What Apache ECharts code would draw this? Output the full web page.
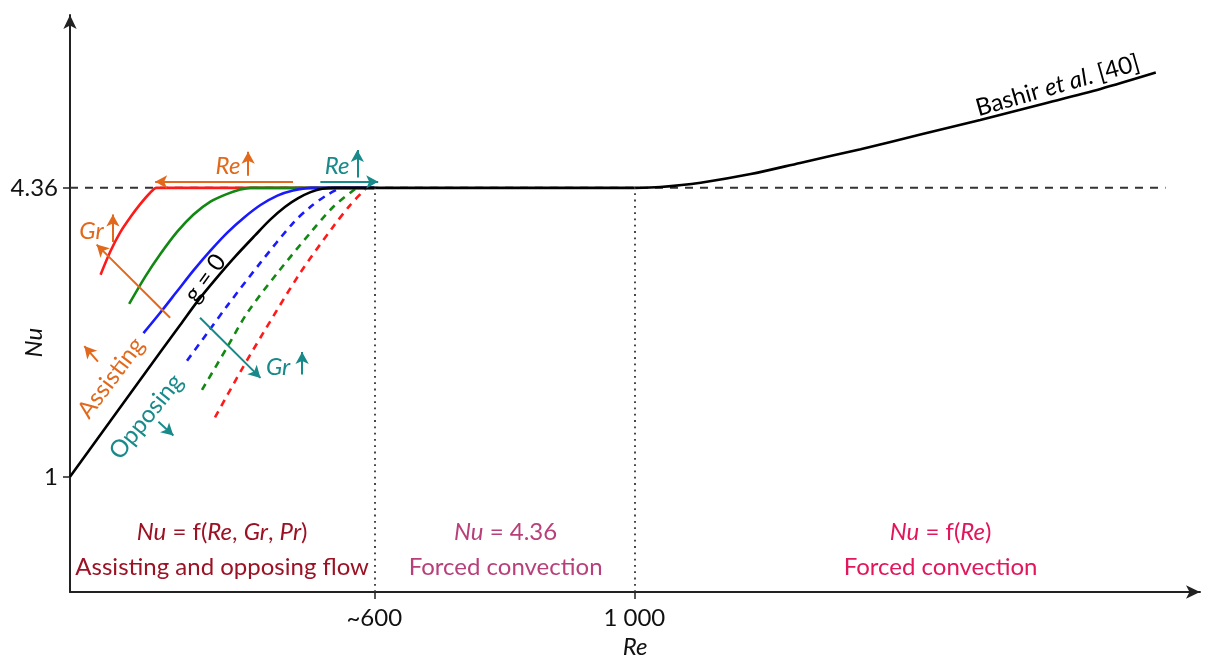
<!DOCTYPE html>
<html>
<head>
<meta charset="utf-8">
<title>Nu versus Re — mixed and forced convection regimes</title>
<script src="https://cdn.jsdelivr.net/npm/echarts@6/dist/echarts.min.js"></script>
<style>
  html, body { margin: 0; padding: 0; background: #ffffff; }
  #chart { width: 1212px; height: 656px; }
</style>
</head>
<body>
<div id="chart"></div>
<script>
// ---- axis ticks ----
const reTicks = [600, 1000];
const reTickLabels = ['~600', '1 000'];
const nuTicks = [1, 4.36];
const nuTickLabels = ['1', '4.36'];
const nuForced = 4.36;

// ---- g = 0 (pure forced convection, developing) ----
const gZeroRe = [132, 271, 302, 328, 355, 386, 417, 440, 463, 483, 502, 520, 540, 1000];
const gZeroNu = [1.00, 2.45, 2.77, 3.04, 3.29, 3.56, 3.81, 3.99, 4.14, 4.24, 4.31, 4.35, 4.36, 4.36];

// ---- assisting flow, Gr increasing: blue -> green -> red ----
const assistLowRe = [245, 271, 297, 322, 348, 374, 399, 425, 451, 475, 502, 600];
const assistLowNu = [2.67, 2.91, 3.16, 3.40, 3.63, 3.84, 4.01, 4.16, 4.27, 4.33, 4.36, 4.36];
const assistMidRe = [223, 248, 271, 297, 322, 348, 374, 394, 409, 600];
const assistMidNu = [3.01, 3.33, 3.59, 3.85, 4.05, 4.20, 4.29, 4.34, 4.36, 4.36];
const assistHighRe = [179, 194, 209, 225, 240, 255, 265, 600];
const assistHighNu = [3.35, 3.62, 3.84, 4.02, 4.17, 4.30, 4.36, 4.36];

// ---- opposing flow, Gr increasing: blue -> green -> red ----
const opposeLowRe = [312, 343, 374, 425, 475, 502, 528, 548];
const opposeLowNu = [2.35, 2.67, 2.99, 3.49, 3.95, 4.14, 4.28, 4.36];
const opposeMidRe = [335, 374, 405, 451, 502, 537, 573];
const opposeMidNu = [2.01, 2.51, 2.91, 3.37, 3.84, 4.14, 4.36];
const opposeHighRe = [355, 394, 429, 486, 537, 563, 588];
const opposeHighNu = [1.69, 2.22, 2.67, 3.37, 3.91, 4.16, 4.36];

// ---- Bashir et al. correlation beyond Re = 1000 ----
const bashirRe = [1000, 1040, 1102, 1179, 1255, 1348, 1440, 1532, 1625, 1717, 1802];
const bashirNu = [4.36, 4.37, 4.42, 4.52, 4.65, 4.81, 4.98, 5.15, 5.33, 5.51, 5.70];

// ---- reference lines ----
const forcedLineRe = [132, 1817];
const regimeBoundRe = [600, 1000];

// ---- colours ----
const RED = '#ff1a1a', GREEN = '#118811', BLUE = '#1a1aff', BLACK = '#000000';
const ORANGE = '#e2691b', TEAL = '#188a8a';
const C_MIXED = '#9c1225', C_FORCED = '#b8407a', C_CORR = '#e2165c';
const FONT = 'Lato';
const FS = 24;

const pairs = (xs, ys) => xs.map((x, i) => [x, ys[i]]);

function curve(name, xs, ys, color, dashed) {
  return {
    name, type: 'line', data: pairs(xs, ys),
    smooth: 0.3, showSymbol: false, silent: true,
    lineStyle: { color, width: 2.6, type: dashed ? [7, 6] : 'solid', cap: 'butt' }
  };
}

// annotation arrows, in (Re, Nu)
const arrowNotes = [
  { from: [475, 4.43], to: [263, 4.43], color: ORANGE },   // Re increasing, assisting
  { from: [517, 4.43], to: [606, 4.43], color: TEAL },     // Re increasing, opposing
  { from: [406, 4.50], to: [406, 4.78], color: ORANGE },
  { from: [574, 4.48], to: [574, 4.80], color: TEAL },
  { from: [286, 2.85], to: [173, 3.70], color: ORANGE },   // Gr increasing, assisting
  { from: [198, 3.73], to: [198, 4.05], color: ORANGE },
  { from: [332, 2.85], to: [425, 2.15], color: TEAL },     // Gr increasing, opposing
  { from: [489, 2.19], to: [489, 2.45], color: TEAL },
  { from: [175, 2.34], to: [154, 2.52], color: ORANGE },   // assisting direction
  { from: [268, 1.64], to: [291, 1.48], color: TEAL }      // opposing direction
];

const textNotes = [
  { text: '{i|Re}', at: [375, 4.61], color: ORANGE },
  { text: '{i|Re}', at: [543, 4.61], color: TEAL },
  { text: '{i|Gr}', at: [165, 3.86], color: ORANGE },
  { text: '{i|Gr}', at: [452, 2.27], color: TEAL },
  { text: 'Assisting', at: [195, 2.15], color: ORANGE, rotate: 53 },
  { text: 'Opposing', at: [249, 1.70], color: TEAL, rotate: 51 },
  { text: 'g = 0', at: [340, 3.31], color: BLACK, rotate: 54 },
  { text: 'Bashir {i|et al}. [40]', at: [1651, 5.55], color: BLACK, rotate: 16 },
  { text: '{i|Nu} = f({i|Re}, {i|Gr}, {i|Pr})\nAssisting and opposing flow', at: [366, 0.15], color: C_MIXED, lh: 35 },
  { text: '{i|Nu} = 4.36\nForced convection', at: [802, 0.15], color: C_FORCED, lh: 35 },
  { text: '{i|Nu} = f({i|Re})\nForced convection', at: [1471, 0.15], color: C_CORR, lh: 35 },
  { text: '{i|Nu}', at: [77, 2.56], color: '#111', rotate: 90 }
];

const chart = echarts.init(document.getElementById('chart'), null, { renderer: 'canvas' });

const arrowLine = (a) => [
  { coord: a.from, lineStyle: { color: a.color, width: 2, type: 'solid' } },
  { coord: a.to }
];

const option = {
  animation: false,
  backgroundColor: '#ffffff',
  textStyle: { fontFamily: FONT },
  grid: { left: 70, right: 12, top: 15, bottom: 64, containLabel: false, outerBoundsMode: 'none' },
  xAxis: {
    type: 'value', min: 132, max: 1870,
    name: 'Re', nameLocation: 'middle', nameGap: 40,
    nameTextStyle: { fontStyle: 'italic', fontSize: FS, color: '#111', fontFamily: FONT },
    axisLine: { show: true, onZero: false, symbol: ['none', 'arrow'], symbolSize: [10, 14],
      lineStyle: { color: '#222', width: 2 } },
    axisTick: { show: true, inside: false, length: 7, customValues: reTicks,
      lineStyle: { color: '#222', width: 1.5 } },
    axisLabel: { show: true, customValues: reTicks, margin: 14, fontSize: FS, color: '#111',
      fontFamily: FONT, formatter: (v) => reTickLabels[reTicks.indexOf(v)] ?? '' },
    splitLine: { show: false }
  },
  yAxis: {
    type: 'value', min: -0.34, max: 6.37,
    axisLine: { show: true, onZero: false, symbol: ['none', 'arrow'], symbolSize: [10, 14],
      lineStyle: { color: '#222', width: 2 } },
    axisTick: { show: true, inside: false, length: 7, customValues: nuTicks,
      lineStyle: { color: '#222', width: 1.5 } },
    axisLabel: { show: true, customValues: nuTicks, margin: 12, fontSize: FS, color: '#111',
      fontFamily: FONT, formatter: (v) => nuTickLabels[nuTicks.indexOf(v)] ?? '' },
    splitLine: { show: false }
  },
  series: [
    {
      name: 'forced limit', type: 'line', silent: true, showSymbol: false,
      data: forcedLineRe.map((x) => [x, nuForced]),
      lineStyle: { color: '#333', width: 2, type: [8, 7] }
    },
    {
      name: 'regime bounds', type: 'line', silent: true, data: [],
      markLine: {
        silent: true, symbol: ['none', 'none'], label: { show: false },
        lineStyle: { color: '#333', width: 1.8, type: [1.8, 4.5] },
        data: regimeBoundRe.map((x) => [{ coord: [x, -0.34] }, { coord: [x, nuForced] }])
      }
    },
    curve('assisting, high Gr', assistHighRe, assistHighNu, RED, false),
    curve('assisting, mid Gr', assistMidRe, assistMidNu, GREEN, false),
    curve('assisting, low Gr', assistLowRe, assistLowNu, BLUE, false),
    curve('opposing, low Gr', opposeLowRe, opposeLowNu, BLUE, true),
    curve('opposing, mid Gr', opposeMidRe, opposeMidNu, GREEN, true),
    curve('opposing, high Gr', opposeHighRe, opposeHighNu, RED, true),
    curve('g = 0', gZeroRe, gZeroNu, BLACK, false),
    curve('Bashir et al.', bashirRe, bashirNu, BLACK, false),
    {
      name: 'annotation arrows', type: 'line', silent: true, data: [],
      markLine: {
        silent: true, symbol: ['none', 'arrow'], symbolSize: [10, 12], label: { show: false },
        data: arrowNotes.map(arrowLine)
      }
    }
  ]
};

chart.setOption(option);

// text annotations placed through the grid's coordinate system
function buildNotes() {
  return textNotes.map((n) => {
    const p = chart.convertToPixel({ gridIndex: 0 }, n.at);
    const rich = {
      i: { fontStyle: 'italic', fontSize: FS, fontFamily: FONT, fill: n.color,
           lineHeight: n.lh || 28 }
    };
    return {
      type: 'text', silent: true,
      x: p[0], y: p[1],
      rotation: ((n.rotate || 0) * Math.PI) / 180,
      style: {
        text: n.text, rich,
        fill: n.color, fontSize: FS, fontFamily: FONT,
        lineHeight: n.lh || 28,
        align: 'center', verticalAlign: 'middle'
      }
    };
  });
}
chart.setOption({ graphic: buildNotes() });
</script>
</body>
</html>
